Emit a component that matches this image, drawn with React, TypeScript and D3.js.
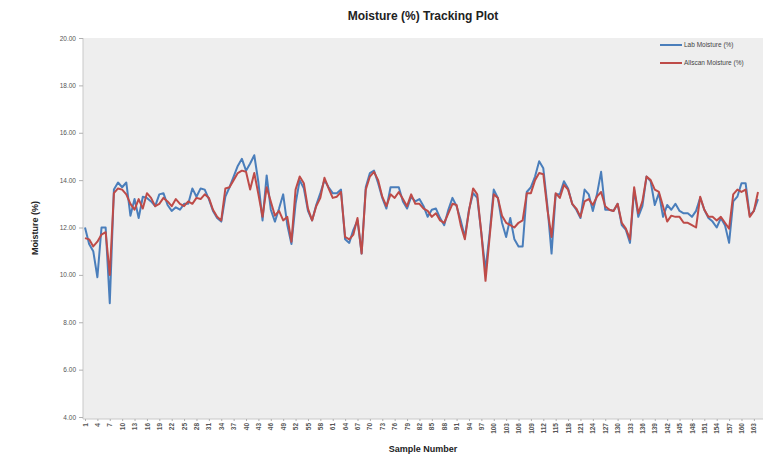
import React, { useEffect, useRef } from "react";
import * as d3 from "d3";

// Lab moisture (blue) and Allscan moisture (red), samples 1..164
const labMoisture = [
  12.0, 11.3, 11.0, 9.9, 12.0, 12.0, 8.8, 13.6, 13.9, 13.7,
  13.9, 12.5, 13.2, 12.4, 13.3, 13.25, 13.1, 12.9, 13.4, 13.45,
  12.95, 12.7, 12.85, 12.75, 13.0, 13.0, 13.65, 13.3, 13.65, 13.6,
  13.2, 12.7, 12.4, 12.25, 13.3, 13.7, 14.15, 14.6, 14.9, 14.4,
  14.7, 15.05, 13.9, 12.3, 14.2, 12.75, 12.25, 12.8, 13.4, 12.1,
  11.3, 13.0, 14.0, 13.65, 12.7, 12.3, 12.95, 13.45, 14.0, 13.7,
  13.45, 13.45, 13.6, 11.5, 11.35, 11.9, 12.3, 10.9, 13.7, 14.3,
  14.4, 13.87, 13.25, 12.8, 13.7, 13.7, 13.7, 13.1, 12.8, 13.3,
  13.1, 13.2, 12.9, 12.45, 12.75, 12.8, 12.4, 12.1, 12.75, 13.25,
  12.9, 12.3, 11.6, 12.75, 13.45, 13.25, 11.75, 10.2, 11.75, 13.6,
  13.25, 12.2, 11.6, 12.4, 11.5, 11.2, 11.2, 13.5, 13.7, 14.15,
  14.8, 14.5, 12.9, 10.9, 13.4, 13.4, 13.95, 13.65, 13.0, 12.75,
  12.4, 13.6, 13.4, 12.7, 13.4, 14.35, 12.75, 12.75, 12.7, 13.0,
  12.1, 11.9, 11.35, 13.6, 12.45, 12.9, 14.15, 13.95, 12.95, 13.45,
  12.45, 12.95, 12.75, 13.0, 12.7, 12.6, 12.6, 12.45, 12.7, 13.25,
  12.75, 12.4, 12.25, 12.0, 12.4, 12.1, 11.35, 13.1, 13.3, 13.87,
  13.87, 12.5, 12.7, 13.2,
];

const allscanMoisture = [
  11.55, 11.5, 11.2, 11.4, 11.7, 11.8, 10.0, 13.45, 13.65, 13.6,
  13.4, 13.0, 12.75, 13.2, 12.8, 13.45, 13.25, 12.9, 13.0, 13.25,
  13.1, 12.9, 13.2, 13.0, 12.9, 13.1, 13.0, 13.25, 13.2, 13.4,
  13.25, 12.75, 12.45, 12.3, 13.65, 13.7, 14.0, 14.3, 14.4, 14.35,
  13.6, 14.3, 13.4, 12.45, 13.7, 13.1, 12.5, 12.7, 12.3, 12.45,
  11.4, 13.6, 14.15, 13.87, 12.8, 12.3, 12.9, 13.25, 14.1, 13.65,
  13.25, 13.3, 13.5, 11.6, 11.5, 11.7, 12.4, 10.9, 13.6, 14.15,
  14.35, 14.0, 13.3, 12.9, 13.4, 13.25, 13.5, 13.2, 12.9, 13.4,
  13.0, 13.0, 12.8, 12.7, 12.45, 12.6, 12.3, 12.2, 12.6, 13.0,
  12.95, 12.1, 11.5, 12.7, 13.65, 13.4, 11.75, 9.75, 11.6, 13.4,
  13.25, 12.5, 12.2, 12.1, 12.0, 12.2, 12.3, 13.45, 13.45, 14.0,
  14.3, 14.25, 12.75, 11.6, 13.45, 13.25, 13.8, 13.6, 13.0, 12.8,
  12.45, 13.1, 13.2, 12.95, 13.3, 13.5, 12.9, 12.75, 12.7, 13.0,
  12.2, 11.95, 11.5, 13.7, 12.6, 13.1, 14.15, 14.0, 13.6, 13.5,
  12.9, 12.25, 12.5, 12.45, 12.45, 12.2, 12.2, 12.1, 12.0, 13.3,
  12.75, 12.45, 12.45, 12.3, 12.45, 12.2, 11.95, 13.4, 13.6, 13.5,
  13.6, 12.45, 12.7, 13.5,
];

const samples = labMoisture.map((_, i) => i + 1);
const xTickLabels = samples.filter((s) => (s - 1) % 3 === 0);
const yTicks = [4, 6, 8, 10, 12, 14, 16, 18, 20];

const seriesNames = ["Lab Moisture (%)", "Allscan Moisture (%)"];
const seriesColors = ["#4a7ebb", "#be4b48"];

const App = () => {
  const ref = useRef<SVGSVGElement | null>(null);

  useEffect(() => {
    const width = 763;
    const height = 458;
    const plot = { left: 83, right: 763, top: 38, bottom: 419 };
    const font = "'Liberation Sans', Arial, sans-serif";

    const svg = d3.select(ref.current);
    svg.selectAll("*").remove();
    svg.attr("width", width).attr("height", height);

    svg.append("rect").attr("width", width).attr("height", height).attr("fill", "#ffffff");

    svg
      .append("rect")
      .attr("x", plot.left)
      .attr("y", plot.top)
      .attr("width", plot.right - plot.left)
      .attr("height", plot.bottom - plot.top)
      .attr("fill", "#eeeeee");

    const x = d3.scalePoint<number>().domain(samples).range([85, 758]);
    const y = d3.scaleLinear().domain([4, 20]).range([417, 38]);

    // y axis
    const yAxis = d3
      .axisLeft(y)
      .tickValues(yTicks)
      .tickSize(4)
      .tickFormat((d) => d3.format(".2f")(d as number));
    const gy = svg.append("g").attr("transform", `translate(${plot.left},0)`).call(yAxis);
    gy.select(".domain").attr("stroke", "#c8c8c8").attr("d", `M0,${plot.top}V${plot.bottom}`);
    gy.selectAll(".tick line").attr("stroke", "#b0b0b0");
    gy.selectAll(".tick text")
      .attr("font-family", font)
      .attr("font-size", 6.5)
      .attr("fill", "#555")
      .attr("x", -7);

    // x axis
    const xAxis = d3
      .axisBottom(x)
      .tickValues(xTickLabels)
      .tickSize(2);
    const gx = svg.append("g").attr("transform", `translate(0,${plot.bottom})`).call(xAxis);
    gx.select(".domain").attr("stroke", "#c8c8c8").attr("d", `M${plot.left},0H${plot.right}`);
    gx.selectAll(".tick line").attr("stroke", "#b0b0b0");
    gx.selectAll(".tick text")
      .attr("font-family", font)
      .attr("font-size", 6.5)
      .attr("font-weight", "bold")
      .attr("fill", "#555")
      .attr("transform", "rotate(-90)")
      .attr("text-anchor", "end")
      .attr("x", -4)
      .attr("y", 0)
      .attr("dy", "0.32em");

    // lines
    const line = d3
      .line<number>()
      .x((_, i) => x(samples[i]) as number)
      .y((d) => y(d));

    [labMoisture, allscanMoisture].forEach((data, k) => {
      svg
        .append("path")
        .datum(data)
        .attr("fill", "none")
        .attr("stroke", seriesColors[k])
        .attr("stroke-width", 2)
        .attr("stroke-linejoin", "round")
        .attr("d", line);
    });

    // legend
    const legend = svg.append("g").attr("transform", "translate(660,45)");
    seriesNames.forEach((name, k) => {
      const g = legend.append("g").attr("transform", `translate(0,${k * 18})`);
      g.append("line")
        .attr("x1", 0)
        .attr("x2", 22)
        .attr("stroke", seriesColors[k])
        .attr("stroke-width", 2);
      g.append("text")
        .attr("x", 24)
        .attr("dy", "0.32em")
        .attr("font-family", font)
        .attr("font-size", 6.5)
        .attr("fill", "#444")
        .text(name);
    });

    // titles
    svg
      .append("text")
      .attr("x", 423)
      .attr("y", 20)
      .attr("text-anchor", "middle")
      .attr("font-family", font)
      .attr("font-weight", "bold")
      .attr("font-size", 12)
      .attr("fill", "#222")
      .text("Moisture (%) Tracking Plot");

    svg
      .append("text")
      .attr("x", 423)
      .attr("y", 452)
      .attr("text-anchor", "middle")
      .attr("font-family", font)
      .attr("font-weight", "bold")
      .attr("font-size", 9)
      .attr("fill", "#222")
      .text("Sample Number");

    svg
      .append("text")
      .attr("transform", "translate(38,228) rotate(-90)")
      .attr("text-anchor", "middle")
      .attr("font-family", font)
      .attr("font-weight", "bold")
      .attr("font-size", 9)
      .attr("fill", "#222")
      .text("Moisture (%)");
  }, []);

  return (
    <svg
      ref={ref}
      style={{ position: "absolute", left: 0, top: 0, display: "block" }}
    />
  );
};

export default App;
